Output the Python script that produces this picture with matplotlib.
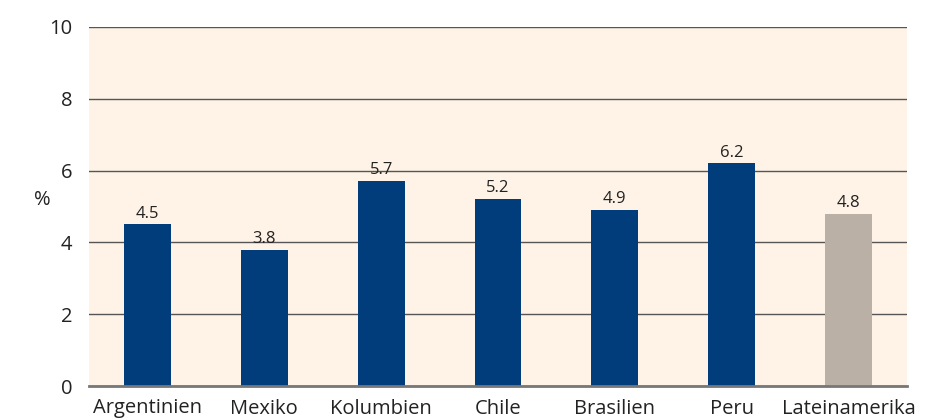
import matplotlib
matplotlib.use("Agg")
import matplotlib.pyplot as plt

categories = ["Argentinien", "Mexiko", "Kolumbien", "Chile", "Brasilien", "Peru", "Lateinamerika"]
values = [4.5, 3.8, 5.7, 5.2, 4.9, 6.2, 4.8]
value_labels = ["4.5", "3.8", "5.7", "5.2", "4.9", "6.2", "4.8"]
y_ticks = [0, 2, 4, 6, 8, 10]

navy = "#003D7A"
beige = "#BBB0A5"
colors = [navy] * 6 + [beige]

plt.rcParams['font.family'] = ['Open Sans', 'DejaVu Sans']

fig = plt.figure(figsize=(9.3, 4.2), dpi=100)
ax = fig.add_axes([89/930, 1 - 386/420, (907-89)/930, (386-27)/420])
ax.set_facecolor("#FEF3E6")

x = list(range(len(categories)))
bars = ax.bar(x, values, width=0.4, color=colors, zorder=3)
for xi, v, lab in zip(x, values, value_labels):
    ax.text(xi, v + 0.08, lab, ha="center", va="bottom", fontsize=12, color="#222222", zorder=4)

ax.set_xlim(-0.5, len(categories) - 0.5)
ax.set_ylim(0, 10)
ax.set_yticks(y_ticks)
ax.set_yticklabels([str(t) for t in y_ticks])
ax.set_xticks(x)
ax.set_xticklabels(categories)
ax.yaxis.grid(True, color="#555555", linewidth=1.0, zorder=1)
ax.set_axisbelow(True)
for s in ["left", "right", "top"]:
    ax.spines[s].set_visible(False)
ax.spines["bottom"].set_color("#777777")
ax.spines["bottom"].set_linewidth(2)
ax.spines["bottom"].set_zorder(5)
ax.tick_params(axis="y", length=0, pad=12, labelsize=14.5, labelcolor="#222222")
ax.tick_params(axis="x", length=0, pad=9, labelsize=14.5, labelcolor="#222222")

fig.text(42/930, 1 - 200/420, "%", ha="center", va="center", fontsize=14.5, color="#222222")

fig.savefig("out.png", dpi=100)
